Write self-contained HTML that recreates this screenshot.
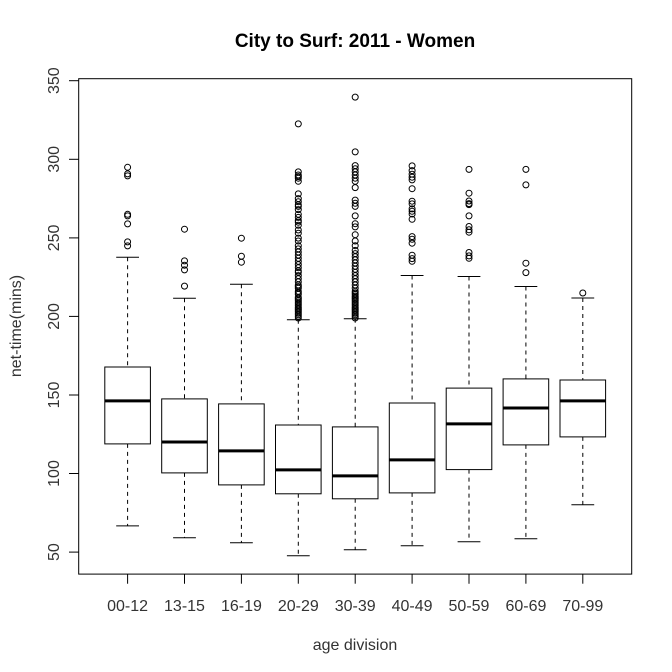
<!DOCTYPE html>
<html><head><style>html,body{margin:0;padding:0;background:#fff}svg{display:block}</style></head>
<body>
<svg width="672" height="672" xmlns="http://www.w3.org/2000/svg" font-family="Liberation Sans, Arial, sans-serif">
<rect width="672" height="672" fill="#fff"/>
<text x="355" y="47" font-size="19" font-weight="bold" text-anchor="middle">City to Surf: 2011 - Women</text>
<rect x="78.7" y="78.7" width="553" height="495.4" fill="none" stroke="#000" stroke-width="1"/>
<g stroke="#000" stroke-width="1">
<line x1="69" x2="78.7" y1="552.1" y2="552.1"/><line x1="69" x2="78.7" y1="473.5" y2="473.5"/><line x1="69" x2="78.7" y1="395" y2="395"/><line x1="69" x2="78.7" y1="316.4" y2="316.4"/><line x1="69" x2="78.7" y1="237.9" y2="237.9"/><line x1="69" x2="78.7" y1="159.3" y2="159.3"/><line x1="69" x2="78.7" y1="80.7" y2="80.7"/>
<line y1="574.1" y2="583.7" x1="127.6" x2="127.6"/><line y1="574.1" y2="583.7" x1="184.5" x2="184.5"/><line y1="574.1" y2="583.7" x1="241.4" x2="241.4"/><line y1="574.1" y2="583.7" x1="298.3" x2="298.3"/><line y1="574.1" y2="583.7" x1="355.2" x2="355.2"/><line y1="574.1" y2="583.7" x1="412.1" x2="412.1"/><line y1="574.1" y2="583.7" x1="469" x2="469"/><line y1="574.1" y2="583.7" x1="525.9" x2="525.9"/><line y1="574.1" y2="583.7" x1="582.8" x2="582.8"/>
</g>
<g font-size="16" text-anchor="middle" fill="#333">
<text transform="translate(59,552.1) rotate(-90)">50</text>
<text transform="translate(59,473.5) rotate(-90)">100</text>
<text transform="translate(59,395) rotate(-90)">150</text>
<text transform="translate(59,316.4) rotate(-90)">200</text>
<text transform="translate(59,237.9) rotate(-90)">250</text>
<text transform="translate(59,159.3) rotate(-90)">300</text>
<text transform="translate(59,80.7) rotate(-90)">350</text>
<text transform="translate(21,326) rotate(-90)">net-time(mins)</text>
<text x="127.6" y="611">00-12</text><text x="184.5" y="611">13-15</text><text x="241.4" y="611">16-19</text><text x="298.3" y="611">20-29</text><text x="355.2" y="611">30-39</text><text x="412.1" y="611">40-49</text><text x="469" y="611">50-59</text><text x="525.9" y="611">60-69</text><text x="582.8" y="611">70-99</text>
<text x="355" y="650">age division</text>
</g>
<g stroke="#000" stroke-width="1" fill="none">
<g stroke-dasharray="4,4">
<line x1="127.6" x2="127.6" y1="257.2" y2="367"/><line x1="127.6" x2="127.6" y1="443.9" y2="525.9"/>
<line x1="184.5" x2="184.5" y1="298.2" y2="398.9"/><line x1="184.5" x2="184.5" y1="472.9" y2="537.8"/>
<line x1="241.4" x2="241.4" y1="284.2" y2="403.9"/><line x1="241.4" x2="241.4" y1="484.9" y2="542.8"/>
<line x1="298.3" x2="298.3" y1="319.7" y2="425"/><line x1="298.3" x2="298.3" y1="493.8" y2="555.7"/>
<line x1="355.2" x2="355.2" y1="318.8" y2="426.9"/><line x1="355.2" x2="355.2" y1="498.8" y2="549.7"/>
<line x1="412.1" x2="412.1" y1="275.5" y2="403"/><line x1="412.1" x2="412.1" y1="492.9" y2="545.8"/>
<line x1="469" x2="469" y1="276.5" y2="388.1"/><line x1="469" x2="469" y1="469.6" y2="541.7"/>
<line x1="525.9" x2="525.9" y1="286.5" y2="378.9"/><line x1="525.9" x2="525.9" y1="444.9" y2="538.7"/>
<line x1="582.8" x2="582.8" y1="298" y2="380"/><line x1="582.8" x2="582.8" y1="436.9" y2="504.8"/>
</g>
<line x1="116.2" x2="139" y1="257.2" y2="257.2"/><line x1="116.2" x2="139" y1="525.9" y2="525.9"/>
<line x1="173.1" x2="195.9" y1="298.2" y2="298.2"/><line x1="173.1" x2="195.9" y1="537.8" y2="537.8"/>
<line x1="230" x2="252.8" y1="284.2" y2="284.2"/><line x1="230" x2="252.8" y1="542.8" y2="542.8"/>
<line x1="286.9" x2="309.7" y1="319.7" y2="319.7"/><line x1="286.9" x2="309.7" y1="555.7" y2="555.7"/>
<line x1="343.8" x2="366.6" y1="318.8" y2="318.8"/><line x1="343.8" x2="366.6" y1="549.7" y2="549.7"/>
<line x1="400.7" x2="423.5" y1="275.5" y2="275.5"/><line x1="400.7" x2="423.5" y1="545.8" y2="545.8"/>
<line x1="457.6" x2="480.4" y1="276.5" y2="276.5"/><line x1="457.6" x2="480.4" y1="541.7" y2="541.7"/>
<line x1="514.5" x2="537.3" y1="286.5" y2="286.5"/><line x1="514.5" x2="537.3" y1="538.7" y2="538.7"/>
<line x1="571.4" x2="594.2" y1="298" y2="298"/><line x1="571.4" x2="594.2" y1="504.8" y2="504.8"/>
<rect x="104.8" y="367" width="45.6" height="76.9" fill="#fff"/>
<rect x="161.7" y="398.9" width="45.6" height="74" fill="#fff"/>
<rect x="218.6" y="403.9" width="45.6" height="81" fill="#fff"/>
<rect x="275.5" y="425" width="45.6" height="68.8" fill="#fff"/>
<rect x="332.4" y="426.9" width="45.6" height="71.9" fill="#fff"/>
<rect x="389.3" y="403" width="45.6" height="89.9" fill="#fff"/>
<rect x="446.2" y="388.1" width="45.6" height="81.5" fill="#fff"/>
<rect x="503.1" y="378.9" width="45.6" height="66" fill="#fff"/>
<rect x="560" y="380" width="45.6" height="56.9" fill="#fff"/>
</g>
<g stroke="#000" stroke-width="3">
<line x1="104.8" x2="150.4" y1="400.9" y2="400.9"/>
<line x1="161.7" x2="207.3" y1="442" y2="442"/>
<line x1="218.6" x2="264.2" y1="450.9" y2="450.9"/>
<line x1="275.5" x2="321.1" y1="469.9" y2="469.9"/>
<line x1="332.4" x2="378" y1="475.9" y2="475.9"/>
<line x1="389.3" x2="434.9" y1="459.9" y2="459.9"/>
<line x1="446.2" x2="491.8" y1="423.9" y2="423.9"/>
<line x1="503.1" x2="548.7" y1="408" y2="408"/>
<line x1="560" x2="605.6" y1="400.9" y2="400.9"/>
</g>
<g stroke="#000" stroke-width="1" fill="none">
<g transform="translate(127.6,0)"><circle r="3" cy="167.3"/><circle r="3" cy="173.9"/><circle r="3" cy="175.9"/><circle r="3" cy="214.3"/><circle r="3" cy="215.9"/><circle r="3" cy="223.9"/><circle r="3" cy="241.9"/><circle r="3" cy="245.9"/></g>
<g transform="translate(184.5,0)"><circle r="3" cy="229.2"/><circle r="3" cy="260.9"/><circle r="3" cy="265.2"/><circle r="3" cy="269.9"/><circle r="3" cy="286.1"/></g>
<g transform="translate(241.4,0)"><circle r="3" cy="238.2"/><circle r="3" cy="256.2"/><circle r="3" cy="262.2"/></g>
<g transform="translate(298.3,0)"><circle r="3" cy="123.9"/><circle r="3" cy="171.9"/><circle r="3" cy="175"/><circle r="3" cy="176.6"/><circle r="3" cy="178.2"/><circle r="3" cy="181.3"/><circle r="3" cy="193.9"/><circle r="3" cy="198.6"/><circle r="3" cy="201.7"/><circle r="3" cy="204.9"/><circle r="3" cy="206.4"/><circle r="3" cy="209.6"/><circle r="3" cy="214.3"/><circle r="3" cy="217.4"/><circle r="3" cy="220.6"/><circle r="3" cy="222.2"/><circle r="3" cy="225.3"/><circle r="3" cy="230"/><circle r="3" cy="233.2"/><circle r="3" cy="238.1"/><circle r="3" cy="241"/><circle r="3" cy="245.7"/><circle r="3" cy="248.9"/><circle r="3" cy="252"/><circle r="3" cy="255.1"/><circle r="3" cy="258.3"/><circle r="3" cy="261.4"/><circle r="3" cy="264.6"/><circle r="3" cy="267.7"/><circle r="3" cy="270.9"/><circle r="3" cy="272.4"/><circle r="3" cy="275.6"/><circle r="3" cy="278.7"/><circle r="3" cy="281.9"/><circle r="3" cy="285"/><circle r="3" cy="286.6"/><circle r="3" cy="288.2"/><circle r="3" cy="291.3"/><circle r="3" cy="292.9"/><circle r="3" cy="294.4"/><circle r="3" cy="297.6"/><circle r="3" cy="299.1"/><circle r="3" cy="300.7"/><circle r="3" cy="302.3"/><circle r="3" cy="303.9"/><circle r="3" cy="305.4"/><circle r="3" cy="307"/><circle r="3" cy="308.6"/><circle r="3" cy="310.1"/><circle r="3" cy="311.7"/><circle r="3" cy="313.3"/><circle r="3" cy="314.8"/><circle r="3" cy="316.4"/><circle r="3" cy="318"/></g>
<g transform="translate(355.2,0)"><circle r="3" cy="97.1"/><circle r="3" cy="151.9"/><circle r="3" cy="165.6"/><circle r="3" cy="168.7"/><circle r="3" cy="171.9"/><circle r="3" cy="175"/><circle r="3" cy="178.2"/><circle r="3" cy="181.3"/><circle r="3" cy="187.6"/><circle r="3" cy="200.1"/><circle r="3" cy="203.3"/><circle r="3" cy="206.4"/><circle r="3" cy="215.9"/><circle r="3" cy="223.7"/><circle r="3" cy="226.9"/><circle r="3" cy="234.7"/><circle r="3" cy="241"/><circle r="3" cy="245.7"/><circle r="3" cy="250.4"/><circle r="3" cy="253.6"/><circle r="3" cy="256.7"/><circle r="3" cy="259.9"/><circle r="3" cy="263"/><circle r="3" cy="266.2"/><circle r="3" cy="269.3"/><circle r="3" cy="272.4"/><circle r="3" cy="275.6"/><circle r="3" cy="278.7"/><circle r="3" cy="281.9"/><circle r="3" cy="285"/><circle r="3" cy="288.2"/><circle r="3" cy="291.3"/><circle r="3" cy="292.9"/><circle r="3" cy="294.4"/><circle r="3" cy="296"/><circle r="3" cy="297.6"/><circle r="3" cy="299.1"/><circle r="3" cy="300.7"/><circle r="3" cy="302.3"/><circle r="3" cy="303.9"/><circle r="3" cy="305.4"/><circle r="3" cy="307"/><circle r="3" cy="308.6"/><circle r="3" cy="310.1"/><circle r="3" cy="311.7"/><circle r="3" cy="313.3"/><circle r="3" cy="314.8"/><circle r="3" cy="316.4"/><circle r="3" cy="318"/></g>
<g transform="translate(412.1,0)"><circle r="3" cy="165.9"/><circle r="3" cy="170.6"/><circle r="3" cy="174.2"/><circle r="3" cy="177.2"/><circle r="3" cy="179.9"/><circle r="3" cy="188.7"/><circle r="3" cy="201.2"/><circle r="3" cy="203.9"/><circle r="3" cy="208.9"/><circle r="3" cy="211.3"/><circle r="3" cy="214"/><circle r="3" cy="219.3"/><circle r="3" cy="236.6"/><circle r="3" cy="239.3"/><circle r="3" cy="243.2"/><circle r="3" cy="255.2"/><circle r="3" cy="258.6"/><circle r="3" cy="261.3"/></g>
<g transform="translate(469,0)"><circle r="3" cy="169.4"/><circle r="3" cy="193.2"/><circle r="3" cy="201"/><circle r="3" cy="203.6"/><circle r="3" cy="204.6"/><circle r="3" cy="215.9"/><circle r="3" cy="226.5"/><circle r="3" cy="229.8"/><circle r="3" cy="232.2"/><circle r="3" cy="252.5"/><circle r="3" cy="255.9"/><circle r="3" cy="258.3"/></g>
<g transform="translate(525.9,0)"><circle r="3" cy="169.4"/><circle r="3" cy="184.9"/><circle r="3" cy="263.2"/><circle r="3" cy="272.6"/></g>
<g transform="translate(582.8,0)"><circle r="3" cy="293"/></g>
</g>
</svg>
</body></html>
